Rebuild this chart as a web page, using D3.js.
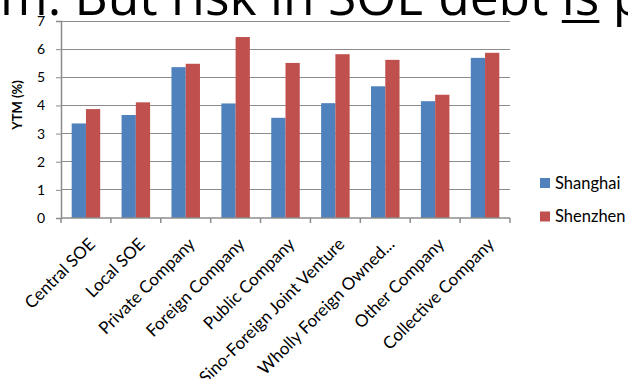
<!DOCTYPE html>
<html>
<head>
<meta charset="utf-8">
<script src="https://cdn.jsdelivr.net/npm/d3@7/dist/d3.min.js"></script>
<style>
  html, body { margin: 0; padding: 0; background: #fff; overflow: hidden; }
  svg { display: block; }
</style>
</head>
<body>
<svg id="chart" width="628" height="379"></svg>
<script>
// Yield to maturity (%) of bonds by issuer type, Shanghai vs Shenzhen exchanges
const categories = [
  "Central SOE", "Local SOE", "Private Company", "Foreign Company",
  "Public Company", "Sino-Foreign Joint Venture", "Wholly Foreign Owned...",
  "Other Company", "Collective Company"
];
const shanghai = [3.36, 3.66, 5.36, 4.07, 3.56, 4.08, 4.68, 4.15, 5.69];
const shenzhen = [3.87, 4.11, 5.48, 6.43, 5.51, 5.82, 5.62, 4.38, 5.87];
const seriesNames = ["Shanghai", "Shenzhen"];
const seriesColors = ["#4F81BD", "#C0504D"];
const yTicks = [0, 1, 2, 3, 4, 5, 6, 7];

const svg = d3.select("#chart");
const chartFont = "Lato, 'Open Sans', sans-serif";

// Slide headline running across the top (cut by the frame)
const title = svg.append("text")
  .attr("y", 15)
  .attr("font-family", "'Open Sans', sans-serif")
  .attr("font-size", 40)
  .attr("fill", "#000");
const pre = title.append("tspan").text("m. But risk in SOE debt ");
const und = title.append("tspan").text("is");
title.append("tspan").text(" p");
// fit the run so the underlined word starts where it should
{
  const w = pre.node().getComputedTextLength();
  const target = 562;
  const fs = 40 * target / w;
  title.attr("font-size", fs).attr("x", 0);
  const w2 = pre.node().getComputedTextLength();
  const uw = und.node().getComputedTextLength();
  svg.append("rect")
    .attr("x", w2).attr("y", 20).attr("width", uw).attr("height", 3)
    .attr("fill", "#000");
}

const margin = { left: 61, right: 118, top: 21, bottom: 161 };
const W = 628, H = 379;
const x0 = d3.scaleBand()
  .domain(categories)
  .range([margin.left, W - margin.right])
  .paddingInner(0)
  .paddingOuter(0);
const x1 = d3.scaleBand()
  .domain(seriesNames)
  .range([0, x0.bandwidth()])
  .paddingInner(0)
  .paddingOuter(0.75);
const y = d3.scaleLinear()
  .domain([0, 7])
  .range([H - margin.bottom, margin.top]);

// horizontal gridlines
svg.append("g")
  .selectAll("line")
  .data(yTicks.filter(d => d > 0))
  .join("line")
  .attr("x1", margin.left).attr("x2", W - margin.right)
  .attr("y1", d => y(d)).attr("y2", d => y(d))
  .attr("stroke", "#8c8c8c").attr("stroke-width", 1)
  .attr("shape-rendering", "crispEdges");

// bars
const rows = categories.map((c, i) => ({ c, vals: [shanghai[i], shenzhen[i]] }));
svg.append("g")
  .selectAll("g")
  .data(rows)
  .join("g")
  .attr("transform", d => `translate(${x0(d.c)},0)`)
  .selectAll("rect")
  .data(d => d.vals.map((v, k) => ({ k, v })))
  .join("rect")
  .attr("x", d => x1(seriesNames[d.k]))
  .attr("width", x1.bandwidth())
  .attr("y", d => y(d.v))
  .attr("height", d => y(0) - y(d.v))
  .attr("fill", d => seriesColors[d.k]);

// y axis
const yAxis = svg.append("g")
  .attr("transform", `translate(${margin.left},0)`)
  .call(d3.axisLeft(y).tickValues(yTicks).tickSize(5).tickPadding(11).tickFormat(d3.format("d")));
yAxis.select(".domain").attr("stroke", "#8c8c8c").attr("stroke-width", 1.5);
yAxis.selectAll(".tick line").attr("stroke", "#8c8c8c");
yAxis.selectAll("text")
  .attr("font-family", chartFont).attr("font-size", 14).attr("fill", "#000");

// x axis with ticks at category boundaries
const xAxisG = svg.append("g").attr("transform", `translate(0,${y(0)})`);
xAxisG.append("line")
  .attr("x1", margin.left).attr("x2", W - margin.right)
  .attr("y1", 0).attr("y2", 0)
  .attr("stroke", "#8c8c8c").attr("stroke-width", 1.5);
const bounds = categories.map(c => x0(c)).concat([x0.range()[1]]);
xAxisG.selectAll("line.tk")
  .data(bounds)
  .join("line")
  .attr("class", "tk")
  .attr("x1", d => d).attr("x2", d => d)
  .attr("y1", 0).attr("y2", 5)
  .attr("stroke", "#8c8c8c").attr("stroke-width", 1.5);
xAxisG.selectAll("text")
  .data(categories)
  .join("text")
  .attr("transform", d => `translate(${x0(d) + x0.bandwidth() / 2 + 6},${23}) rotate(-45)`)
  .attr("text-anchor", "end")
  .attr("dy", "0.35em")
  .attr("font-family", chartFont).attr("font-size", 17).attr("fill", "#000")
  .text(d => d);

// y axis title
svg.append("text")
  .attr("transform", `translate(22,105) rotate(-90)`)
  .attr("text-anchor", "middle")
  .attr("font-family", chartFont).attr("font-size", 13).attr("font-weight", "bold")
  .text("YTM (%)");

// legend
const legend = svg.append("g").attr("transform", "translate(540,178)");
const li = legend.selectAll("g")
  .data(seriesNames)
  .join("g")
  .attr("transform", (d, i) => `translate(0,${i * 33.5})`);
li.append("rect").attr("width", 10).attr("height", 10)
  .attr("fill", (d, i) => seriesColors[i]);
li.append("text")
  .attr("x", 15).attr("y", 10.5)
  .attr("font-family", chartFont).attr("font-size", 16.5).attr("fill", "#000")
  .text(d => d);
</script>
</body>
</html>
